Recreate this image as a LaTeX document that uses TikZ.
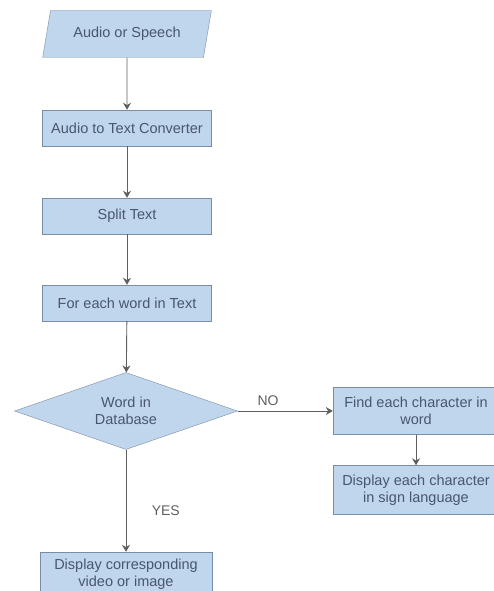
\documentclass[tikz,border=0pt]{standalone}
\usepackage{fontspec}
\setmainfont{Liberation Sans}
\usetikzlibrary{shapes.geometric, arrows.meta}

\definecolor{boxfill}{RGB}{192,214,236}
\definecolor{boxline}{RGB}{122,140,166}
\definecolor{boxtext}{RGB}{72,86,110}
\definecolor{flowline}{RGB}{95,95,95}

\tikzset{
    stepbox/.style={draw=boxline, fill=boxfill, text=boxtext, font=\fontsize{14.5}{17}\selectfont,
        minimum width=169pt, minimum height=36pt, align=center, inner sep=1pt},
    iobox/.style={trapezium, trapezium left angle=70, trapezium right angle=110, trapezium stretches=true,
        draw=boxline, fill=boxfill, text=boxtext, font=\fontsize{14.5}{17}\selectfont,
        minimum width=169pt, minimum height=47pt, align=center, inner sep=1pt},
    decision/.style={diamond, aspect=3, draw=boxline, fill=boxfill, text=boxtext, font=\fontsize{14.5}{17}\selectfont,
        minimum width=223pt, minimum height=77pt, align=center, inner sep=0pt},
    flow/.style={draw=flowline, line width=0.9pt, -{Stealth[length=7pt, width=8pt]}},
    answer/.style={text=flowline, font=\fontsize{14}{16}\selectfont},
}

\begin{document}
\begin{tikzpicture}[x=1pt, y=-1pt]
    \useasboundingbox (0, 0) rectangle (494, 591);

    \node[iobox] (input) at (127, 34) {Audio or Speech};
    \node[stepbox] (convert) at (127, 128) {Audio to Text Converter};
    \node[stepbox] (split) at (127, 216) {Split Text};
    \node[stepbox] (loop) at (127, 303) {For each word in Text};
    \node[decision] (check) at (126, 411) {Word in\\Database};
    \node[stepbox, minimum width=166pt, minimum height=47pt] (chars) at (416, 411) {Find each character in\\word};
    \node[stepbox, minimum width=166pt, minimum height=49pt] (signs) at (416, 490) {Display each character\\in sign language};
    \node[stepbox, minimum width=172pt, minimum height=44pt] (media) at (126, 574) {Display corresponding\\video or image};

    \draw[flow] (input) -- (convert);
    \draw[flow] (convert) -- (split);
    \draw[flow] (split) -- (loop);
    \draw[flow] (loop) -- (check);
    \draw[flow] (check.east) -- (chars.west) node[answer, pos=0.32, above=2pt] {NO};
    \draw[flow] (chars) -- (signs);
    \draw[flow] (check.south) -- (media.north) node[answer, pos=0.6, right=22pt] {YES};
\end{tikzpicture}
\end{document}
